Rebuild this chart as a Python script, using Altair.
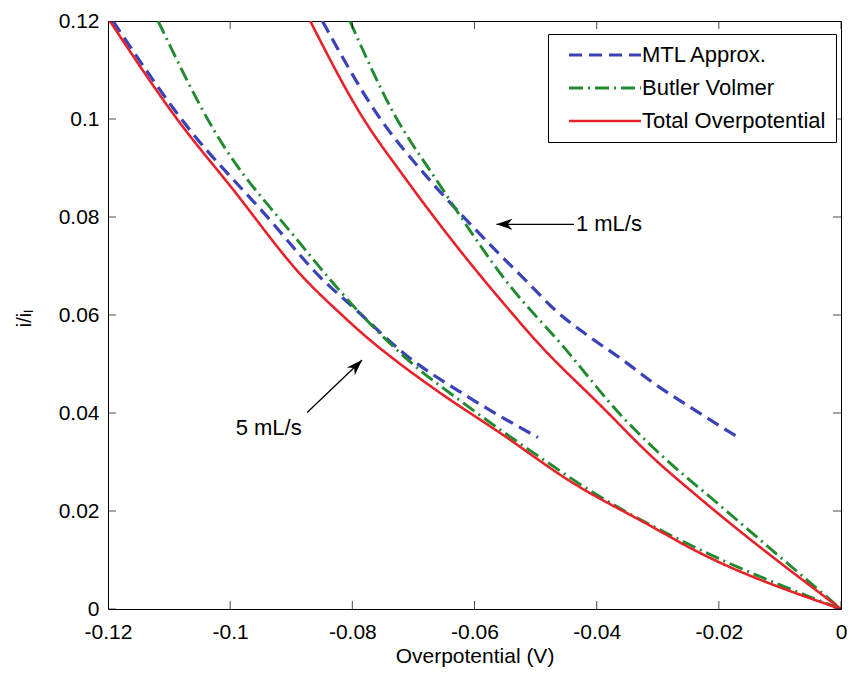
import altair as alt
import pandas as pd

FONT = "Liberation Sans"

series_names = ["MTL Approx.", "Butler Volmer", "Total Overpotential"]
series_colors = ["#3a42b8", "#1f8a2e", "#e8222a"]
series_dashes = [[13, 7], [14, 5, 2, 5], [1, 0]]
series_widths = [3.2, 2.6, 2]

# 1 mL/s curves
mtl_1_x = [-0.0849, -0.0760, -0.0673, -0.0608, -0.0515, -0.0466, -0.0409, -0.0357, -0.0308, -0.0238, -0.0168]
mtl_1_y = [0.1200, 0.1011, 0.0875, 0.0787, 0.0669, 0.0608, 0.0553, 0.0508, 0.0462, 0.0405, 0.0350]
bv_1_x = [-0.0804, -0.0732, -0.0662, -0.0543, -0.0457, -0.0357, -0.0308, -0.0194, 0.0]
bv_1_y = [0.1200, 0.1011, 0.0875, 0.0661, 0.0539, 0.0391, 0.0330, 0.0207, 0.0]
tot_1_x = [-0.0869, -0.0787, -0.0711, -0.0629, -0.0543, -0.0499, -0.0390, -0.0308, -0.0233, 0.0]
tot_1_y = [0.1200, 0.1011, 0.0875, 0.0740, 0.0610, 0.0547, 0.0411, 0.0309, 0.0228, 0.0]

# 5 mL/s curves
mtl_5_x = [-0.1192, -0.1070, -0.0944, -0.0846, -0.0796, -0.0716, -0.0608, -0.0496]
mtl_5_y = [0.1200, 0.0984, 0.0807, 0.0669, 0.0613, 0.0522, 0.0431, 0.0350]
bv_5_x = [-0.1118, -0.1026, -0.0890, -0.0792, -0.0716, -0.0608, -0.0499, -0.0401, -0.0249, 0.0]
bv_5_y = [0.1200, 0.0976, 0.0753, 0.0610, 0.0516, 0.0411, 0.0315, 0.0234, 0.0132, 0.0]
tot_5_x = [-0.1197, -0.1081, -0.0999, -0.0879, -0.0817, -0.0775, -0.0730, -0.0662, -0.0553, -0.0445, -0.0308, -0.0249, 0.0]
tot_5_y = [0.1200, 0.0990, 0.0862, 0.0675, 0.0600, 0.0553, 0.0508, 0.0446, 0.0355, 0.0262, 0.0167, 0.0126, 0.0]

x_ticks = [-0.12, -0.1, -0.08, -0.06, -0.04, -0.02, 0]
y_ticks = [0, 0.02, 0.04, 0.06, 0.08, 0.1, 0.12]

# annotations: arrow tail -> tip, label
ann_labels = ["1 mL/s", "5 mL/s"]
ann_tail_x = [-0.0437, -0.0874]
ann_tail_y = [0.0785, 0.0401]
ann_tip_x = [-0.0564, -0.0784]
ann_tip_y = [0.0785, 0.0508]
ann_angle = [270, 45]
ann_text_x = [-0.0434, -0.0991]
ann_text_y = [0.0785, 0.0370]

rows = []
for name, flow, xs, ys in [
    ("MTL Approx.", "1", mtl_1_x, mtl_1_y),
    ("Butler Volmer", "1", bv_1_x, bv_1_y),
    ("Total Overpotential", "1", tot_1_x, tot_1_y),
    ("MTL Approx.", "5", mtl_5_x, mtl_5_y),
    ("Butler Volmer", "5", bv_5_x, bv_5_y),
    ("Total Overpotential", "5", tot_5_x, tot_5_y),
]:
    for x, y in zip(xs, ys):
        rows.append({"series": name, "flow": flow, "v": x, "c": y})
df = pd.DataFrame(rows)

ann_df = pd.DataFrame({
    "label": ann_labels, "x": ann_tail_x, "y": ann_tail_y,
    "xe": ann_tip_x, "ye": ann_tip_y, "angle": ann_angle,
    "tx": ann_text_x, "ty": ann_text_y,
})

xscale = alt.Scale(domain=[-0.12, 0], nice=False, zero=False)
yscale = alt.Scale(domain=[0, 0.12], nice=False, zero=False)

x_axis = alt.Axis(
    values=x_ticks, ticks=False, domain=False, grid=False,
    labelFont=FONT, labelFontSize=21, labelColor="black", labelPadding=12,
    labelFlush=False, labelOverlap=False,
    labelExpr="datum.value == 0 ? '0' : '-' + format(abs(datum.value), '~g')",
    titleFont=FONT, titleFontSize=21, titleFontWeight="normal", titleColor="black",
    titleY=47, titleBaseline="middle",
)
y_axis = alt.Axis(
    values=y_ticks, ticks=False, domain=False, grid=False,
    labelFont=FONT, labelFontSize=21, labelColor="black", labelPadding=9,
    labelFlush=False, labelOverlap=False,
    labelExpr="format(datum.value, '~g')",
    titleFont=FONT, titleFontSize=20, titleFontWeight="normal", titleColor="black",
    titleAngle=270, titleX=-84, titleY=297, titleAlign="center", titleBaseline="middle",
)

legend = alt.Legend(
    orient="none", legendX=440, legendY=13, title=None,
    symbolType="M0,0 L12,0", symbolSize=144, symbolStrokeWidth=2.6,
    labelFont=FONT, labelFontSize=22, labelColor="black", labelLimit=400,
    labelOffset=62, rowPadding=11, padding=10,
    strokeColor="black", fillColor="white", cornerRadius=0,
)

lines = alt.Chart(df).mark_line(clip=True, interpolate="monotone").encode(
    x=alt.X("v:Q", scale=xscale, axis=x_axis, title="Overpotential (V)"),
    y=alt.Y("c:Q", scale=yscale, axis=y_axis, title="i/iₗ"),
    color=alt.Color("series:N", scale=alt.Scale(domain=series_names, range=series_colors),
                    title=None, legend=legend),
    strokeDash=alt.StrokeDash("series:N", scale=alt.Scale(domain=series_names, range=series_dashes),
                              title=None, legend=legend),
    strokeWidth=alt.StrokeWidth("series:N", scale=alt.Scale(domain=series_names, range=series_widths), legend=None),
    detail="flow:N",
    order=alt.Order("v:Q"),
)

xt = pd.DataFrame({"t": x_ticks})
yt = pd.DataFrame({"t": y_ticks})
tick_bottom = alt.Chart(xt).mark_tick(orient="vertical", size=16, thickness=1, color="black", clip=True).encode(
    x=alt.X("t:Q"), y=alt.datum(0))
tick_top = alt.Chart(xt).mark_tick(orient="vertical", size=16, thickness=1, color="black", clip=True).encode(
    x=alt.X("t:Q"), y=alt.datum(0.12))
tick_left = alt.Chart(yt).mark_tick(orient="horizontal", size=16, thickness=1, color="black", clip=True).encode(
    y=alt.Y("t:Q"), x=alt.datum(-0.12))
tick_right = alt.Chart(yt).mark_tick(orient="horizontal", size=16, thickness=1, color="black", clip=True).encode(
    y=alt.Y("t:Q"), x=alt.datum(0))

arrow_lines = alt.Chart(ann_df).mark_rule(color="black", strokeWidth=1.3).encode(
    x="x:Q", y="y:Q", x2="xe:Q", y2="ye:Q")
ARROW = "M0,0 L-0.7,2 L0,1.4 L0.7,2 Z"
arrow_heads = alt.Chart(ann_df).mark_point(shape=ARROW, filled=True, color="black", size=256,
                                            opacity=1, strokeWidth=0).encode(
    x="xe:Q", y="ye:Q", angle=alt.Angle("angle:Q", scale=None))
ann_text = alt.Chart(ann_df).mark_text(align="left", baseline="middle", font=FONT, fontSize=22,
                                       color="black").encode(
    x="tx:Q", y="ty:Q", text="label:N")

chart = alt.layer(
    lines, tick_bottom, tick_top, tick_left, tick_right, arrow_lines, arrow_heads, ann_text
).properties(
    width=733, height=588,
    padding={"left": 100, "top": 13, "right": 6, "bottom": 61},
    autosize=alt.AutoSizeParams(type="none"),
).configure_view(
    stroke="black", strokeWidth=1,
)

chart.save("out.html", embed_options={"renderer": "svg", "actions": False})
